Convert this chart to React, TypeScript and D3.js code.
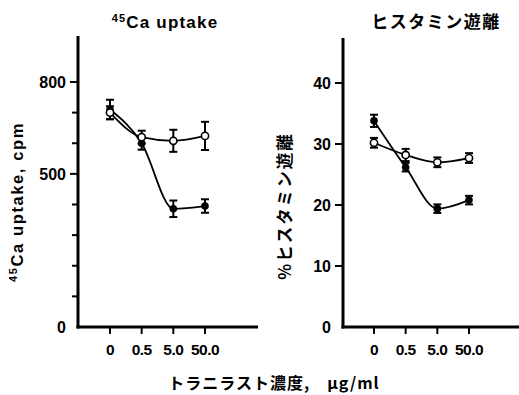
import React from 'react';
import * as d3 from 'd3';

// concentrations of tranilast (µg/ml)
const doses = ['0', '0.5', '5.0', '50.0'];

// 45Ca uptake, cpm
const caOpen = [700, 620, 608, 624];
const caOpenErr = [21, 21, 36, 46];
const caFilled = [710, 600, 386, 395];
const caFilledErr = [32, 21, 27, 22];
const caTicks = [0, 500, 800];
const caMinor = [100, 200, 300, 400, 600, 700];

// % histamine release
const hiOpen = [30.2, 28.2, 27.0, 27.7];
const hiOpenErr = [0.8, 1.0, 0.8, 0.8];
const hiFilled = [33.8, 26.2, 19.4, 20.8];
const hiFilledErr = [1.0, 0.7, 0.7, 0.7];
const hiTicks = [0, 10, 20, 30, 40];

const font = '"Liberation Sans", Arial, sans-serif';
const jp = '"Noto Sans CJK JP", sans-serif';

interface PanelProps {
	axisX: number;
	axisTop: number;
	axisRight: number;
	xRange: [number, number];
	yScale: d3.ScaleLinear<number, number>;
	ticks: number[];
	minor?: number[];
	open: number[];
	openErr: number[];
	filled: number[];
	filledErr: number[];
	title: React.ReactNode;
	titleX: number;
	titleSpacing: number;
	yLabel: React.ReactNode;
	yLabelX: number;
	yLabelY: number;
	yLabelSpacing: number;
}

const Panel: React.FC<PanelProps> = (p) => {
	const x = d3.scalePoint<string>().domain(doses).range(p.xRange);
	const y = p.yScale;
	const base = y(0);
	const line = d3
		.line<number>()
		.x((_, i) => x(doses[i]) ?? 0)
		.y((d) => y(d))
		.curve(d3.curveMonotoneX);

	const errBars = (vals: number[], errs: number[]) =>
		vals.map((v, i) => {
			const cx = x(doses[i]) ?? 0;
			return (
				<g key={i} stroke="#000" strokeWidth={2}>
					<line x1={cx} x2={cx} y1={y(v - errs[i])} y2={y(v + errs[i])} />
					<line x1={cx - 4} x2={cx + 4} y1={y(v - errs[i])} y2={y(v - errs[i])} />
					<line x1={cx - 4} x2={cx + 4} y1={y(v + errs[i])} y2={y(v + errs[i])} />
				</g>
			);
		});

	return (
		<g>
			<text
				x={p.titleX}
				y={28}
				textAnchor="middle"
				fontWeight="bold"
				fontSize={17}
				letterSpacing={p.titleSpacing}
				fontFamily={jp}>
				{p.title}
			</text>
			{/* axes */}
			<line x1={p.axisX} x2={p.axisX} y1={p.axisTop} y2={base + 1.5} stroke="#000" strokeWidth={3} />
			<line x1={p.axisX - 1.5} x2={p.axisRight} y1={base} y2={base} stroke="#000" strokeWidth={3} />
			{p.ticks.map((t) => (
				<g key={t}>
					{t !== 0 && (
						<line x1={p.axisX - 8} x2={p.axisX} y1={y(t)} y2={y(t)} stroke="#000" strokeWidth={2} />
					)}
					<text
						x={p.axisX - 12}
						y={y(t)}
						dy="0.36em"
						textAnchor="end"
						fontWeight="bold"
						fontSize={16}
						fontFamily={font}>
						{t}
					</text>
				</g>
			))}
			{(p.minor ?? []).map((t) => (
				<line key={t} x1={p.axisX - 6} x2={p.axisX} y1={y(t)} y2={y(t)} stroke="#000" strokeWidth={2} />
			))}
			{doses.map((d) => (
				<g key={d}>
					<line x1={x(d)} x2={x(d)} y1={base} y2={base + 7} stroke="#000" strokeWidth={2} />
					<text
						x={x(d)}
						y={base + 28}
						textAnchor="middle"
						fontWeight="bold"
						fontSize={15.5}
						letterSpacing={-0.5}
						fontFamily={font}>
						{d}
					</text>
				</g>
			))}
			<text
				transform={`translate(${p.yLabelX},${p.yLabelY}) rotate(-90)`}
				textAnchor="middle"
				fontWeight="bold"
				fontSize={16.5}
				letterSpacing={p.yLabelSpacing}
				fontFamily={jp}>
				{p.yLabel}
			</text>
			{/* series */}
			<path d={line(p.filled) ?? ''} fill="none" stroke="#000" strokeWidth={1.8} />
			<path d={line(p.open) ?? ''} fill="none" stroke="#000" strokeWidth={1.8} />
			{errBars(p.filled, p.filledErr)}
			{errBars(p.open, p.openErr)}
			{p.filled.map((v, i) => (
				<circle key={i} cx={x(doses[i])} cy={y(v)} r={3.8} fill="#000" />
			))}
			{p.open.map((v, i) => (
				<circle key={i} cx={x(doses[i])} cy={y(v)} r={3.6} fill="#fff" stroke="#000" strokeWidth={1.6} />
			))}
		</g>
	);
};

const App: React.FC = () => {
	const yCa = d3.scaleLinear().domain([0, 800]).range([327, 82]);
	const yHi = d3.scaleLinear().domain([0, 40]).range([327, 83]);

	return (
		<div style={{ position: 'absolute', left: 0, top: 0 }}>
			<svg width={519} height={395} style={{ display: 'block', background: '#fff' }}>
				<Panel
					axisX={78}
					axisTop={36}
					axisRight={258}
					xRange={[110, 205]}
					yScale={yCa}
					ticks={caTicks}
					minor={caMinor}
					open={caOpen}
					openErr={caOpenErr}
					filled={caFilled}
					filledErr={caFilledErr}
					title={
						<tspan fontFamily={font}>
							<tspan fontSize={11} dy={-6}>45</tspan>
							<tspan dy={6}>Ca uptake</tspan>
						</tspan>
					}
					titleX={165}
					titleSpacing={1.2}
					yLabel={
						<tspan fontFamily={font}>
							<tspan fontSize={11} dy={-6}>45</tspan>
							<tspan dy={6}>Ca uptake, cpm</tspan>
						</tspan>
					}
					yLabelX={23}
					yLabelY={202}
					yLabelSpacing={1.6}
				/>
				<Panel
					axisX={343}
					axisTop={38}
					axisRight={519}
					xRange={[374, 469]}
					yScale={yHi}
					ticks={hiTicks}
					open={hiOpen}
					openErr={hiOpenErr}
					filled={hiFilled}
					filledErr={hiFilledErr}
					title="ヒスタミン遊離"
					titleX={436}
					titleSpacing={1.5}
					yLabel="%ヒスタミン遊離"
					yLabelX={291}
					yLabelY={206}
					yLabelSpacing={2}
				/>
				<text
					x={274}
					y={389}
					textAnchor="middle"
					fontWeight="bold"
					fontSize={16}
					letterSpacing={1}
					fontFamily={jp}>
					トラニラスト濃度,　μg/ml
				</text>
			</svg>
		</div>
	);
};

export default App;
